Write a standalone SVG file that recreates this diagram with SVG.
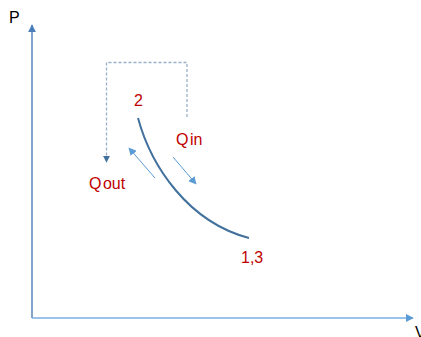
<svg xmlns="http://www.w3.org/2000/svg" width="421" height="337" viewBox="0 0 421 337">
<style>
.lbl{font-family:"Liberation Sans",Arial,sans-serif;font-size:16px;fill:#c00000}
.ax{font-family:"Liberation Sans",Arial,sans-serif;font-size:16px;fill:#000}
.flow{stroke:#5b9bd5;stroke-width:1;fill:none}
</style>
<defs>
<marker id="ah" viewBox="0 0 10 10" refX="9" refY="5" markerWidth="8" markerHeight="8" orient="auto" markerUnits="userSpaceOnUse"><path d="M0,0 L10,5 L0,10 z" fill="#5b9bd5"/></marker>
<marker id="ahY" viewBox="0 0 10 10" refX="9" refY="5" markerWidth="8" markerHeight="8" orient="auto" markerUnits="userSpaceOnUse"><path d="M0,0 L10,5 L0,10 z" fill="#4a7ebb"/></marker>
<marker id="ahD" viewBox="0 0 10 10" refX="9" refY="5" markerWidth="7" markerHeight="7" orient="auto" markerUnits="userSpaceOnUse"><path d="M0,0 L10,5 L0,10 z" fill="#41719c"/></marker>
</defs>
<g id="connectors">
<line id="y-axis" x1="32" y1="318" x2="32" y2="25" stroke="#5a86b8" stroke-width="1.5" marker-end="url(#ahY)"/>
<line id="x-axis" x1="32" y1="318" x2="413" y2="318" stroke="#7aaee0" stroke-width="1.5" marker-end="url(#ah)"/>
<path id="dashed" d="M187,117 V62.5 H106.5 V162" stroke="#9ab0c8" stroke-width="1.3" stroke-dasharray="3,2" fill="none" marker-end="url(#ahD)"/>
<path id="curve" d="M138,118 C151,166 188,222 249,238" stroke="#41719c" stroke-width="2" fill="none"/>
<line x1="155" y1="178" x2="129" y2="148" class="flow" marker-end="url(#ah)"/>
<line x1="173" y1="157" x2="196" y2="184" class="flow" marker-end="url(#ah)"/>
</g>
<g id="labels">
<text class="ax" x="9" y="23">P</text>
<text class="ax" x="415" y="338">V</text>
<text class="lbl" x="134" y="106">2</text>
<text class="lbl" x="176" y="145">Q<tspan dx="1.5">in</tspan></text>
<text class="lbl" x="89" y="189">Q<tspan dx="1.5">out</tspan></text>
<text class="lbl" x="241" y="263">1,3</text>
</g>
</svg>
